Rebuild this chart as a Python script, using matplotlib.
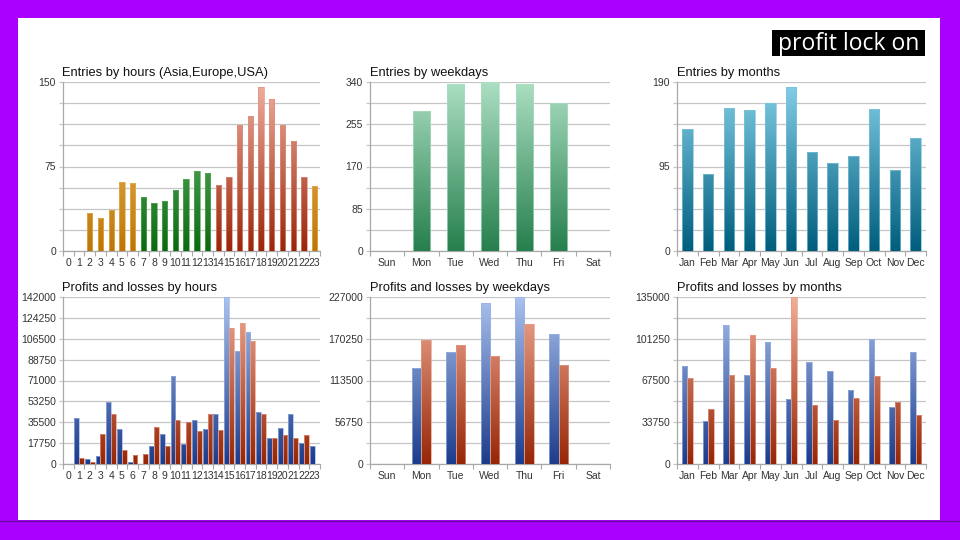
import numpy as np
import matplotlib
matplotlib.use("Agg")
import matplotlib.pyplot as plt
from matplotlib.colors import LinearSegmentedColormap
from matplotlib.patches import Rectangle

plt.rcParams['font.family'] = ['Liberation Sans', 'DejaVu Sans']

# ---------------- data ----------------
hours = [str(h) for h in range(24)]
hour_entries = [0, 0, 34, 29, 36, 61, 60, 48, 43, 44, 54, 64, 71, 69, 59, 66,
                112, 120, 146, 135, 112, 98, 66, 58]
hour_session = ['Asia'] * 7 + ['Europe'] * 7 + ['USA'] * 9 + ['Asia']

weekdays = ['Sun', 'Mon', 'Tue', 'Wed', 'Thu', 'Fri', 'Sat']
weekday_entries = [0, 282, 335, 340, 335, 298, 0]

months = ['Jan', 'Feb', 'Mar', 'Apr', 'May', 'Jun', 'Jul', 'Aug', 'Sep', 'Oct', 'Nov', 'Dec']
month_entries = [137, 87, 161, 158, 166, 184, 111, 99, 107, 160, 91, 127]

hour_profits = [0, 39500, 4200, 6800, 52800, 29600, 2000, 0, 15500, 25100, 74800, 17200,
                37300, 29400, 42100, 142000, 96300, 112400, 44300, 22300, 30500, 42300, 17800, 15000]
hour_losses = [0, 5400, 1700, 25400, 42300, 11900, 7600, 8500, 31300, 15200, 37500, 35300,
               27700, 42300, 28800, 115700, 120300, 104400, 42300, 22000, 24600, 21700, 24600, 0]

weekday_profits = [0, 130900, 151600, 219300, 227000, 176500, 0]
weekday_losses = [0, 168300, 161100, 146200, 190900, 134500, 0]

month_profits = [79200, 34900, 112200, 71900, 98800, 52300, 82100, 74900, 59600, 101200, 46400, 90700]
month_losses = [69200, 44600, 72200, 104400, 77300, 135000, 47800, 35700, 53400, 71100, 50200, 39500]

ticks_hours_entries = [0, 75, 150]
ticks_weekday_entries = [0, 85, 170, 255, 340]
ticks_month_entries = [0, 95, 190]
ticks_hours_pl = [0, 17750, 35500, 53250, 71000, 88750, 106500, 124250, 142000]
ticks_weekday_pl = [0, 56750, 113500, 170250, 227000]
ticks_month_pl = [0, 33750, 67500, 101250, 135000]

# ---------------- styles ----------------
def cm(lo, hi):
    return LinearSegmentedColormap.from_list('g', [lo, hi])

CM = {
    'Asia': cm('#bd7606', '#f4c878'),
    'Europe': cm('#0a6a10', '#7cc87c'),
    'USA': cm('#9a2608', '#f0b0a0'),
    'week': cm('#267f4d', '#acdfc3'),
    'month': cm('#005d7c', '#84d0e8'),
    'profit': cm('#1c3c8c', '#aac2ee'),
    'loss': cm('#962606', '#f2ae98'),
}
EDGE = {
    'Asia': '#e8b050', 'Europe': '#5aaa5a', 'USA': '#e09080',
    'week': '#a8e0c0', 'month': '#7cc4dc', 'profit': '#9ab4e4', 'loss': '#e89a84',
}

PURPLE = '#aa00ff'
GRID = '#c6c6c6'
AXC = '#a8a8a8'
TXT = '#333333'

fig = plt.figure(figsize=(9.6, 5.4), dpi=100, facecolor=PURPLE)
W, H = 960.0, 540.0
# white card
fig.patches.append(Rectangle((18 / W, (540 - 520) / H), (940 - 18) / W, (520 - 18) / H,
                             transform=fig.transFigure, facecolor='white', edgecolor='none', zorder=-10))
fig.lines.append(plt.Line2D([0, 1], [(540 - 520.5) / H] * 2, transform=fig.transFigure,
                            color='#6a0aa0', lw=1.0, zorder=-9))

# profit lock on label
fig.patches.append(Rectangle((772 / W, (540 - 56) / H), 153 / W, 26 / H, transform=fig.transFigure,
                             facecolor='black', edgecolor='none', zorder=-8))
fig.text(849 / W, (540 - 43.5) / H, 'profit lock on', color='white', fontsize=16.5,
         family=['Open Sans', 'DejaVu Sans'], ha='center', va='center', zorder=3)


def axes_at(x0, x1, ytop, ybot):
    return fig.add_axes([x0 / W, (540 - ybot) / H, (x1 - x0) / W, (ybot - ytop) / H])


def style(ax, cats, yticks, title):
    ymax = yticks[-1]
    ax.set_xlim(-0.5, len(cats) - 0.5)
    ax.set_ylim(0, ymax)
    allt = np.linspace(0, ymax, 9)
    ax.set_yticks(allt)
    labels = []
    for t in allt:
        match = [v for v in yticks if abs(v - t) < 1e-6 * ymax + 1e-9]
        labels.append(str(int(match[0])) if match else '')
    ax.set_yticklabels(labels)
    ax.set_xticks(range(len(cats)))
    ax.set_xticklabels(cats)
    ax.set_xticks(np.arange(-0.5, len(cats), 1.0), minor=True)
    ax.tick_params(axis='x', which='major', length=0, pad=5, labelsize=7.5, labelcolor=TXT)
    ax.tick_params(axis='x', which='minor', length=3.5, color=AXC, width=0.8)
    ax.tick_params(axis='y', which='major', length=3, color=GRID, width=0.9, pad=2,
                   labelsize=7.5, labelcolor=TXT)
    for s in ['top', 'right']:
        ax.spines[s].set_visible(False)
    for s in ['left', 'bottom']:
        ax.spines[s].set_color(AXC)
        ax.spines[s].set_linewidth(0.9)
    ax.yaxis.grid(True, color=GRID, lw=0.9)
    ax.set_axisbelow(True)
    ax.set_facecolor('none')
    ax.set_title(title, loc='left', fontsize=9.3, pad=4, color='#111111', x=-0.002)


def grad_bars(ax, x, vals, width, keys, ymax):
    bars = ax.bar(x, vals, width=width, color='none', edgecolor='none', zorder=3)
    x0, x1 = ax.get_xlim()
    grad = np.linspace(0, 1, 256).reshape(-1, 1)
    for b, v, k in zip(bars, vals, keys):
        if v <= 0:
            continue
        im = ax.imshow(grad, extent=(x0, x1, 0, ymax), origin='lower', aspect='auto',
                       cmap=CM[k], vmin=0, vmax=1, interpolation='bilinear', zorder=3)
        im.set_clip_path(b)
        b.set_edgecolor(EDGE[k])
        b.set_linewidth(0.5)
        b.set_zorder(4)
    ax.set_xlim(x0, x1)
    ax.set_ylim(0, ymax)


TOP = (82, 251)
BOT = (297, 464)
P1 = (63, 320)
P2 = (370, 610)
P3 = (677, 926)

# 1: entries by hours
ax = axes_at(P1[0], P1[1], *TOP)
style(ax, hours, ticks_hours_entries, 'Entries by hours (Asia,Europe,USA)')
grad_bars(ax, np.arange(24), hour_entries, 0.5, hour_session, ticks_hours_entries[-1])

# 2: entries by weekdays
ax = axes_at(P2[0], P2[1], *TOP)
style(ax, weekdays, ticks_weekday_entries, 'Entries by weekdays')
grad_bars(ax, np.arange(7), weekday_entries, 0.5, ['week'] * 7, ticks_weekday_entries[-1])

# 3: entries by months
ax = axes_at(P3[0], P3[1], *TOP)
style(ax, months, ticks_month_entries, 'Entries by months')
grad_bars(ax, np.arange(12), month_entries, 0.5, ['month'] * 12, ticks_month_entries[-1])

# 4: profits and losses by hours
ax = axes_at(P1[0], P1[1], *BOT)
style(ax, hours, ticks_hours_pl, 'Profits and losses by hours')
bw = 0.45
grad_bars(ax, np.arange(24) - bw / 2, hour_profits, bw, ['profit'] * 24, ticks_hours_pl[-1])
grad_bars(ax, np.arange(24) + bw / 2, hour_losses, bw, ['loss'] * 24, ticks_hours_pl[-1])

# 5: profits and losses by weekdays
ax = axes_at(P2[0], P2[1], *BOT)
style(ax, weekdays, ticks_weekday_pl, 'Profits and losses by weekdays')
bw = 0.27
grad_bars(ax, np.arange(7) - bw / 2, weekday_profits, bw, ['profit'] * 7, ticks_weekday_pl[-1])
grad_bars(ax, np.arange(7) + bw / 2, weekday_losses, bw, ['loss'] * 7, ticks_weekday_pl[-1])

# 6: profits and losses by months
ax = axes_at(P3[0], P3[1], *BOT)
style(ax, months, ticks_month_pl, 'Profits and losses by months')
bw = 0.27
grad_bars(ax, np.arange(12) - bw / 2, month_profits, bw, ['profit'] * 12, ticks_month_pl[-1])
grad_bars(ax, np.arange(12) + bw / 2, month_losses, bw, ['loss'] * 12, ticks_month_pl[-1])

fig.savefig('out.png', dpi=100, facecolor=PURPLE)
